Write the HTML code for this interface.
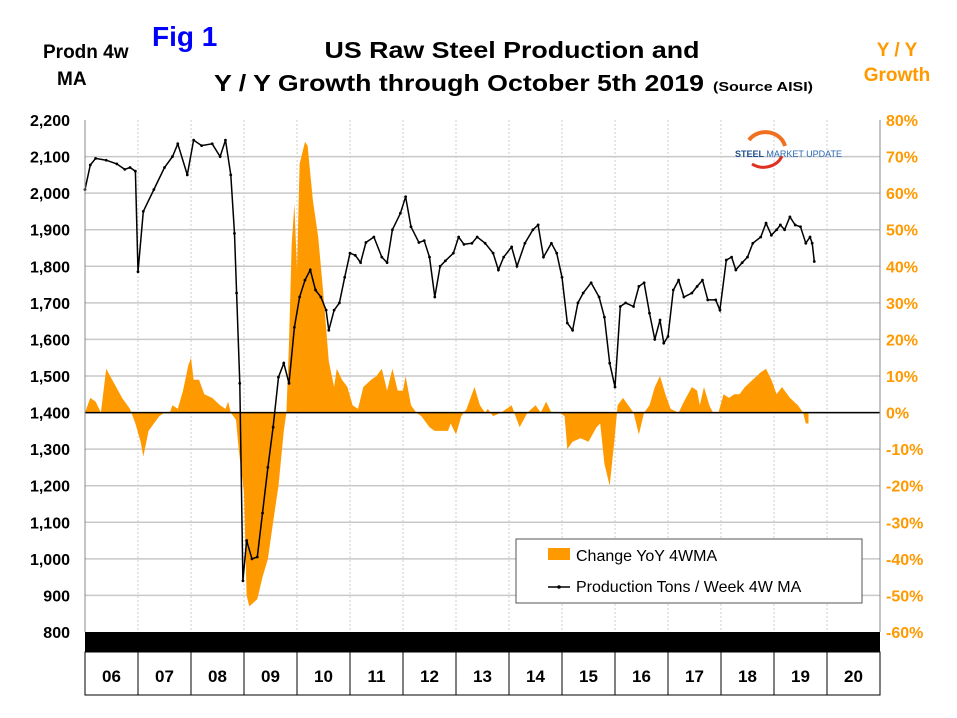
<!DOCTYPE html>
<html><head><meta charset="utf-8"><style>
body{margin:0;background:#fff;width:957px;height:718px;overflow:hidden}
svg{display:block}
text{font-family:"Liberation Sans",sans-serif;font-weight:bold}
</style></head><body>
<svg id="chart" width="957" height="718">
<text x="43" y="58" font-size="19">Prodn 4w</text>
<text x="57" y="85" font-size="19">MA</text>
<text x="152" y="46" font-size="28" fill="#0000ff">Fig 1</text>
<text x="512" y="58" font-size="23" text-anchor="middle" textLength="375" lengthAdjust="spacingAndGlyphs">US Raw Steel Production and</text>
<text x="214" y="91" font-size="23" textLength="490" lengthAdjust="spacingAndGlyphs">Y / Y Growth through October 5th 2019</text>
<text x="713" y="91" font-size="13" textLength="100" lengthAdjust="spacingAndGlyphs">(Source AISI)</text>
<text x="897" y="56" font-size="19" fill="#ff9900" text-anchor="middle">Y / Y</text>
<text x="897" y="81" font-size="19" fill="#ff9900" text-anchor="middle">Growth</text>
<g id="grid"></g><g id="area"></g><g id="line"></g><g id="axes"></g>
<g>
<path d="M749,140 A20,18 0 0 1 785,146" stroke="#f07020" stroke-width="4" fill="none"/>
<path d="M752,164 A20,18 0 0 0 782,156" stroke="#e03020" stroke-width="3" fill="none"/>
<text x="735" y="157" font-size="9" fill="#1f4e8c">STEEL <tspan font-weight="normal" fill="#2a6ab0">MARKET UPDATE</tspan></text>
</g>
<g>
<rect x="516" y="539" width="346" height="64" fill="#fff" stroke="#555"/>
<rect x="548" y="548" width="22" height="12" fill="#ff9900"/>
<text x="576" y="561" font-size="16" font-weight="normal" style="font-weight:normal">Change YoY 4WMA</text>
<line x1="548" y1="587" x2="570" y2="587" stroke="#000" stroke-width="1.5"/>
<circle cx="559" cy="587" r="1.8" fill="#000"/>
<text x="576" y="592" font-size="16" style="font-weight:normal">Production Tons / Week 4W MA</text>
</g>
</svg>
<script>
const prodT=[2006.0,2006.1,2006.2,2006.4,2006.6,2006.75,2006.85,2006.95,2007.0,2007.1,2007.3,2007.5,2007.65,2007.75,2007.93,2008.05,2008.2,2008.4,2008.55,2008.65,2008.75,2008.82,2008.86,2008.92,2008.98,2009.05,2009.15,2009.25,2009.35,2009.45,2009.55,2009.65,2009.75,2009.85,2009.95,2010.05,2010.15,2010.25,2010.35,2010.45,2010.55,2010.6,2010.7,2010.8,2010.9,2011.0,2011.1,2011.2,2011.3,2011.45,2011.6,2011.7,2011.8,2011.95,2012.05,2012.15,2012.3,2012.4,2012.5,2012.6,2012.7,2012.8,2012.95,2013.05,2013.15,2013.3,2013.4,2013.55,2013.7,2013.8,2013.9,2014.05,2014.15,2014.3,2014.45,2014.55,2014.65,2014.8,2014.9,2015.0,2015.1,2015.2,2015.3,2015.4,2015.55,2015.7,2015.8,2015.9,2016.0,2016.1,2016.2,2016.35,2016.45,2016.55,2016.65,2016.75,2016.85,2016.92,2017.0,2017.1,2017.2,2017.3,2017.45,2017.55,2017.65,2017.75,2017.9,2017.98,2018.1,2018.2,2018.28,2018.4,2018.5,2018.6,2018.75,2018.85,2018.95,2019.05,2019.12,2019.2,2019.3,2019.4,2019.5,2019.6,2019.68,2019.72,2019.76];
const prodV=[2010,2077,2095,2090,2080,2065,2070,2060,1785,1950,2010,2070,2100,2135,2050,2145,2130,2135,2100,2145,2050,1890,1727,1480,940,1050,1000,1005,1125,1250,1360,1497,1535,1480,1633,1716,1762,1790,1735,1716,1680,1625,1680,1700,1770,1836,1830,1810,1865,1880,1825,1810,1900,1945,1990,1908,1865,1870,1825,1716,1800,1815,1836,1880,1860,1863,1880,1863,1836,1790,1825,1853,1800,1863,1900,1913,1825,1863,1836,1770,1645,1625,1700,1727,1755,1716,1661,1535,1470,1690,1700,1690,1745,1755,1672,1600,1653,1590,1608,1735,1762,1716,1727,1745,1762,1708,1708,1680,1817,1825,1790,1810,1825,1863,1880,1918,1885,1900,1913,1900,1935,1913,1908,1863,1880,1863,1813];
const yoyT=[2006.0,2006.1,2006.2,2006.3,2006.4,2006.55,2006.7,2006.85,2006.95,2007.05,2007.1,2007.2,2007.3,2007.4,2007.5,2007.6,2007.65,2007.75,2007.85,2007.95,2008.0,2008.05,2008.15,2008.25,2008.4,2008.55,2008.65,2008.7,2008.75,2008.85,2008.9,2009.0,2009.05,2009.1,2009.25,2009.35,2009.45,2009.55,2009.65,2009.75,2009.8,2009.85,2009.9,2009.95,2010.0,2010.05,2010.15,2010.2,2010.3,2010.4,2010.5,2010.6,2010.7,2010.75,2010.85,2010.95,2011.05,2011.15,2011.25,2011.4,2011.5,2011.6,2011.7,2011.8,2011.9,2012.0,2012.05,2012.15,2012.25,2012.35,2012.5,2012.6,2012.75,2012.85,2012.9,2013.0,2013.1,2013.2,2013.35,2013.45,2013.55,2013.6,2013.7,2013.85,2014.05,2014.2,2014.35,2014.5,2014.6,2014.7,2014.8,2014.95,2015.05,2015.1,2015.2,2015.35,2015.5,2015.65,2015.72,2015.8,2015.9,2016.0,2016.05,2016.15,2016.3,2016.35,2016.4,2016.45,2016.55,2016.65,2016.75,2016.85,2016.95,2017.05,2017.2,2017.3,2017.45,2017.55,2017.6,2017.68,2017.78,2017.85,2017.95,2018.05,2018.15,2018.25,2018.35,2018.45,2018.6,2018.75,2018.85,2018.95,2019.05,2019.15,2019.3,2019.45,2019.55,2019.6,2019.65];
const yoyV=[0,4,3,0,12,8,4,1,-3,-8,-12,-5,-3,-1,0,0,2,1,6,13,15,9,9,5,4,2,1,3,0,-2,-10,-22,-50,-53,-51,-45,-40,-30,-20,-5,0,19,46,57,39,68,74,73,58,48,32,14,7,12,9,7,2,1,7,9,10,12,6,12,6,6,10,2,0,-1,-4,-5,-5,-5,-3,-6,-1,1,7,2,0,1,-1,0,2,-4,0,2,0,3,0,0,-1,-10,-8,-7,-8,-4,-3,-14,-20,-6,2,4,1,0,-3,-6,0,2,7,10,5,1,0,3,7,6,2,7,2,0,0,5,4,5,5,7,9,11,12,9,5,7,4,2,0,-3,-3];
const leftTicks=[2200,2100,2000,1900,1800,1700,1600,1500,1400,1300,1200,1100,1000,900,800];
const rightTicks=[80,70,60,50,40,30,20,10,0,-10,-20,-30,-40,-50,-60];
const yearLabels=["06","07","08","09","10","11","12","13","14","15","16","17","18","19","20"];

const X0=85,X1=880,Y0=120,Y1=632;
const xs=t=>X0+(t-2006)/15*(X1-X0);
const yL=v=>Y0+(2200-v)/1400*(Y1-Y0);
const yR=p=>Y0+(80-p)/140*(Y1-Y0);
const NS="http://www.w3.org/2000/svg";
function mk(tag,attrs,parent){const e=document.createElementNS(NS,tag);for(const k in attrs)e.setAttribute(k,attrs[k]);document.getElementById(parent).appendChild(e);return e;}

leftTicks.forEach((v,i)=>{
  const y=yL(v);
  if(i>0&&v!==800){const g=mk('line',{x1:X0,x2:X1,y1:y,y2:y,stroke:'#c8c8c8','stroke-width':1.5},'grid');
  
  }
  const t=mk('text',{x:70,y:y+6,'font-size':16,'text-anchor':'end'},'axes');t.textContent=v.toLocaleString('en-US');
  
  
});
rightTicks.forEach(p=>{
  const y=yR(p);
  const t=mk('text',{x:886,y:y+6,'font-size':16,fill:'#ff9900'},'axes');t.textContent=p+'%';
  
  
});
yearLabels.forEach((lab,i)=>{
  const xm=xs(2006+i+0.5);
  if(i>0){const v=mk('line',{x1:xs(2006+i),x2:xs(2006+i),y1:Y0,y2:Y1,stroke:'#ccc','stroke-dasharray':'2,2'},'grid');
  
  
  const s=mk('line',{x1:xs(2006+i),x2:xs(2006+i),y1:652,y2:695,stroke:'#000'},'axes');
  
  }
  const t=mk('text',{x:xm,y:682,'font-size':17,'text-anchor':'middle'},'axes');t.textContent=lab;
  
  
});
// area
let d='M'+xs(yoyT[0])+','+yR(0);
yoyT.forEach((t,i)=>{d+=' L'+xs(t).toFixed(1)+','+yR(yoyV[i]).toFixed(1);});
d+=' L'+xs(yoyT[yoyT.length-1])+','+yR(0)+' Z';
const a=mk('path',{d:d,fill:'#ff9900'},'area');


// zero line
const z=mk('line',{x1:X0,x2:X1,y1:yR(0),y2:yR(0),stroke:'#000','stroke-width':1.5},'axes');


// axes frame
const la=mk('line',{x1:X0,x2:X0,y1:Y0,y2:Y1,stroke:'#888'},'axes');


const ra=mk('line',{x1:X1,x2:X1,y1:Y0,y2:Y1,stroke:'#888'},'axes');


const bb=mk('rect',{x:X0,y:Y1,width:X1-X0,height:20,fill:'#000'},'axes');


const yb=mk('rect',{x:X0,y:652,width:X1-X0,height:43,fill:'none',stroke:'#000'},'axes');


// production line
let pts=prodT.map((t,i)=>xs(t).toFixed(1)+','+yL(prodV[i]).toFixed(1)).join(' ');
const pl=mk('polyline',{points:pts,fill:'none',stroke:'#000','stroke-width':1.5},'line');


prodT.forEach((t,i)=>{const c=mk('circle',{cx:xs(t),cy:yL(prodV[i]),r:1.4,fill:'#000'},'line');

});
</script>
</body></html>
